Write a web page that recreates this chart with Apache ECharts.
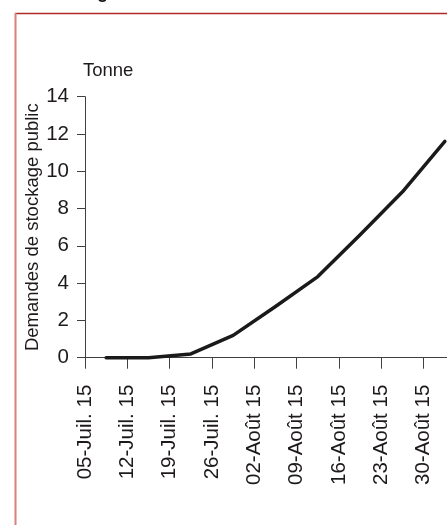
<!DOCTYPE html>
<html>
<head>
<meta charset="utf-8">
<script src="https://cdn.jsdelivr.net/npm/echarts@6/dist/echarts.min.js"></script>
<style>
html,body{margin:0;padding:0;background:#fff;overflow:hidden;width:447px;height:525px;}
#chart{width:470px;height:525px;}
</style>
</head>
<body>
<div id="chart"></div>
<script>
// Tick labels (one per week, starting Sunday 05-Juil. 2015)
const tickLabels = ['05-Juil. 15','12-Juil. 15','19-Juil. 15','26-Juil. 15','02-Août 15','09-Août 15','16-Août 15','23-Août 15','30-Août 15'];
// Data points: days since 05-Juil. 15 (mid-week) and values in tonnes
const pointDays = [3.5, 10.5, 17.5, 24.5, 31.5, 38.5, 45.5, 52.5, 59.5];
const demandValues = [0, 0, 0.2, 1.2, 2.75, 4.35, 6.6, 8.9, 11.6];
const yTicks = [0, 2, 4, 6, 8, 10, 12, 14];
const yAxisName = 'Demandes de stockage public';
const unitLabel = 'Tonne';
const titleFragment = 'g';

const FONT = "'Liberation Sans', Arial, sans-serif";
const TXT = '#1e1a1b';
const AX = '#404040';

const chart = echarts.init(document.getElementById('chart'), null, {renderer: 'canvas'});
const seriesData = pointDays.map((d, i) => [d, demandValues[i]]);

chart.setOption({
  animation: false,
  backgroundColor: '#fff',
  grid: {left: 85, top: 96.7, bottom: 167.3, right: 4, containLabel: false},
  xAxis: {
    type: 'value',
    min: 0, max: 63, interval: 7,
    axisLine: {show: true, onZero: false, lineStyle: {color: AX, width: 1}},
    axisTick: {show: true, inside: false, length: 11, lineStyle: {color: AX, width: 1}},
    splitLine: {show: false},
    axisLabel: {
      rotate: 90, margin: 27, fontSize: 20.5, fontFamily: FONT, color: TXT,
      showMaxLabel: true, showMinLabel: true,
      formatter: v => { const i = Math.round(v / 7); return tickLabels[i] || ''; }
    }
  },
  yAxis: {
    type: 'value',
    min: yTicks[0], max: yTicks[yTicks.length - 1], interval: 2,
    name: yAxisName,
    nameLocation: 'middle', nameGap: 43, nameRotate: 90,
    nameMoveOverlap: false,
    nameTextStyle: {fontSize: 18.5, fontFamily: FONT, color: TXT},
    axisLine: {show: true, lineStyle: {color: AX, width: 1}},
    axisTick: {show: true, inside: false, length: 8, lineStyle: {color: AX, width: 1}},
    splitLine: {show: false},
    axisLabel: {margin: 16, fontSize: 20.5, fontFamily: FONT, color: TXT}
  },
  series: [{
    type: 'line',
    data: seriesData,
    showSymbol: false,
    symbol: 'none',
    smooth: false,
    clip: false,
    lineStyle: {color: '#1a1a1a', width: 3.5, cap: 'round', join: 'round'}
  }],
  graphic: [
    {type: 'line', silent: true, shape: {x1: 15, y1: 13.5, x2: 470, y2: 13.5}, style: {stroke: '#b02a2a', lineWidth: 1.5}},
    {type: 'line', silent: true, shape: {x1: 15.5, y1: 13, x2: 15.5, y2: 525}, style: {stroke: '#d98080', lineWidth: 2}},
    {type: 'text', silent: true, left: 97, top: -16, style: {text: titleFragment, font: "bold 18px 'Liberation Sans', Arial, sans-serif", fill: '#111'}},
    {type: 'text', silent: true, left: 83, top: 61, style: {text: unitLabel, font: "18.5px 'Liberation Sans', Arial, sans-serif", fill: TXT}}
  ]
});
</script>
</body>
</html>
